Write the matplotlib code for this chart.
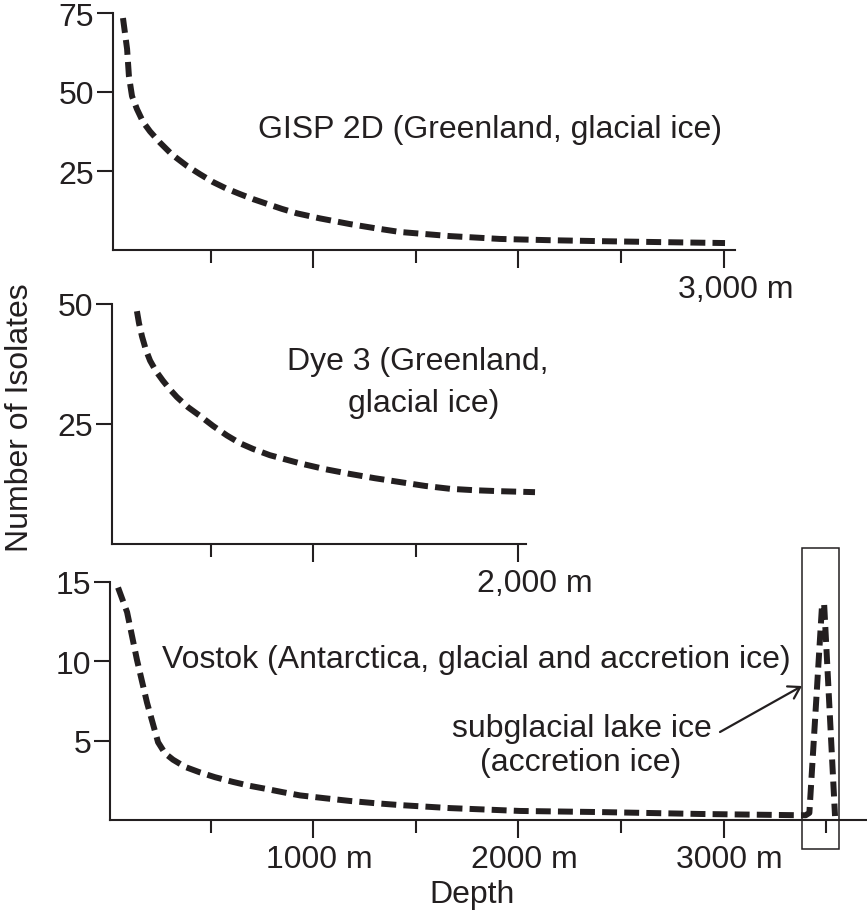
import matplotlib
matplotlib.use("Agg")
import matplotlib.pyplot as plt
from matplotlib.patches import Rectangle, FancyArrowPatch
from matplotlib.transforms import ScaledTranslation

plt.rcParams['font.family'] = ['Liberation Sans', 'DejaVu Sans']
INK = '#231f20'
FS = 23

# GISP 2D (Greenland, glacial ice)
gisp_depth = [73, 93, 102, 117, 141, 171, 205, 253, 312, 385, 448, 512, 575, 643, 707, 775,
              848, 921, 1033, 1179, 1301, 1423, 1667, 1910, 2154, 2398, 2690, 3007]
gisp_count = [73.4, 63.6, 55, 48.7, 44.6, 40.5, 37.5, 34, 30.2, 26.6, 24, 21.5, 19.5, 17.7, 16.1, 14.6,
              13.0, 11.6, 10.0, 8.2, 6.9, 5.7, 4.4, 3.5, 3.1, 2.8, 2.5, 2.2]

# Dye 3 (Greenland, glacial ice)
dye_depth = [141, 151, 166, 185, 205, 234, 268, 302, 336, 390, 448, 512, 580, 643, 707, 789, 936, 1057,
             1179, 1301, 1423, 1545, 1667, 1788, 1910, 2081]
dye_count = [48.5, 46, 43.2, 40.4, 38.2, 36.0, 34.0, 32.2, 30.6, 28.5, 26.7, 24.6, 22.6, 21.0, 19.8,
             18.5, 16.8, 15.6, 14.6, 13.7, 12.9, 12.1, 11.5, 11.2, 11.0, 10.8]

# Vostok (Antarctica, glacial and accretion ice)
vostok_depth = [49, 93, 141, 190, 244, 278, 317, 375, 448, 521, 609, 692, 775, 853, 936, 1058,
                1179, 1301, 1423, 1667, 2008, 2398, 2885, 3372, 3400, 3418, 3480, 3490, 3543]
vostok_count = [14.65, 13.1, 10.1, 7.4, 4.9, 4.2, 3.8, 3.35, 3.0, 2.7, 2.4, 2.15, 1.95, 1.75, 1.55, 1.37,
                1.2, 1.06, 0.94, 0.75, 0.57, 0.5, 0.38, 0.3, 0.3, 0.45, 13.6, 13.6, 0.25]

W, H = 867, 912
fig = plt.figure(figsize=(W / 100, H / 100), dpi=100)

X0, SC = 108, 0.2052   # pixel of 0 m, pixels per metre


def make_axes(left, right, top, bottom, ymax):
    ax = fig.add_axes([left / W, 1 - bottom / H, (right - left) / W, (bottom - top) / H])
    ax.set_xlim((left - X0) / SC, (right - X0) / SC)
    ax.set_ylim(0, ymax)
    for s in ['top', 'right']:
        ax.spines[s].set_visible(False)
    for s in ['left', 'bottom']:
        ax.spines[s].set_linewidth(1.5)
        ax.spines[s].set_color(INK)
    ax.tick_params(axis='y', length=11.5, width=1.5, pad=2, labelsize=FS, colors=INK)
    ax.tick_params(axis='x', which='major', length=13, width=1.5, pad=4, labelsize=FS, colors=INK)
    ax.tick_params(axis='x', which='minor', length=9.4, width=1.5, colors=INK)
    ax.patch.set_alpha(0)
    return ax


def shift_xlabels(ax, dx):
    off = ScaledTranslation(dx / 100, 0, fig.dpi_scale_trans)
    for lab in ax.get_xticklabels():
        lab.set_transform(lab.get_transform() + off)


line_kw = dict(color=INK, lw=4.3, dashes=(2.5, 1.2), clip_on=False, solid_capstyle='butt')

# top panel
ax1 = make_axes(113, 735, 14, 251, 75)
ax1.plot(gisp_depth, gisp_count, **line_kw)
ax1.set_yticks([25, 50, 75])
ax1.set_xticks([1000, 2000, 3000], ['', '', '3,000 m'])
ax1.set_xticks([500, 1500, 2500], minor=True)
shift_xlabels(ax1, 12)

# middle panel
ax2 = make_axes(112, 526, 305, 545, 50)
ax2.plot(dye_depth, dye_count, **line_kw)
ax2.set_yticks([25, 50])
ax2.set_xticks([1000, 2000], ['', '2,000 m'])
ax2.set_xticks([500, 1500], minor=True)
shift_xlabels(ax2, 16)

# bottom panel
ax3 = make_axes(110, 867, 583, 821, 15)
ax3.plot(vostok_depth, vostok_count, **line_kw)
ax3.set_yticks([5, 10, 15])
ax3.set_xticks([1000, 2000, 3000], ['1000 m', '2000 m', '3000 m'])
ax3.set_xticks([500, 1500, 2500, 3500], minor=True)
shift_xlabels(ax3, 6)


def fx(px):
    return px / W


def fy(py):
    return 1 - py / H


txt = dict(fontsize=FS, color=INK, va='baseline', ha='left')
fig.text(fx(258), fy(138), 'GISP 2D (Greenland, glacial ice)', **txt)
fig.text(fx(287), fy(370), 'Dye 3 (Greenland,', **txt)
fig.text(fx(348), fy(412), 'glacial ice)', **txt)
fig.text(fx(162), fy(668), 'Vostok (Antarctica, glacial and accretion ice)', **txt)
fig.text(fx(452), fy(737), 'subglacial lake ice', **txt)
fig.text(fx(480), fy(771), '(accretion ice)', **txt)
fig.text(fx(472), fy(903), 'Depth', fontsize=FS, color=INK, ha='center', va='baseline')
fig.text(fx(20), fy(418), 'Number of Isolates', fontsize=FS, color=INK,
         ha='center', va='center', rotation=90)

# box around the accretion ice peak
fig.patches.append(Rectangle((fx(802), fy(850)), fx(839) - fx(802), fy(549) - fy(850),
                             transform=fig.transFigure, fill=False, ec=INK, lw=1.1))
fig.patches.append(FancyArrowPatch((fx(720), fy(733)), (fx(802), fy(687)),
                                   transform=fig.transFigure, arrowstyle='->,head_length=8,head_width=5',
                                   color=INK, lw=1.6, shrinkA=0, shrinkB=0))

fig.savefig('out.png', dpi=100)
